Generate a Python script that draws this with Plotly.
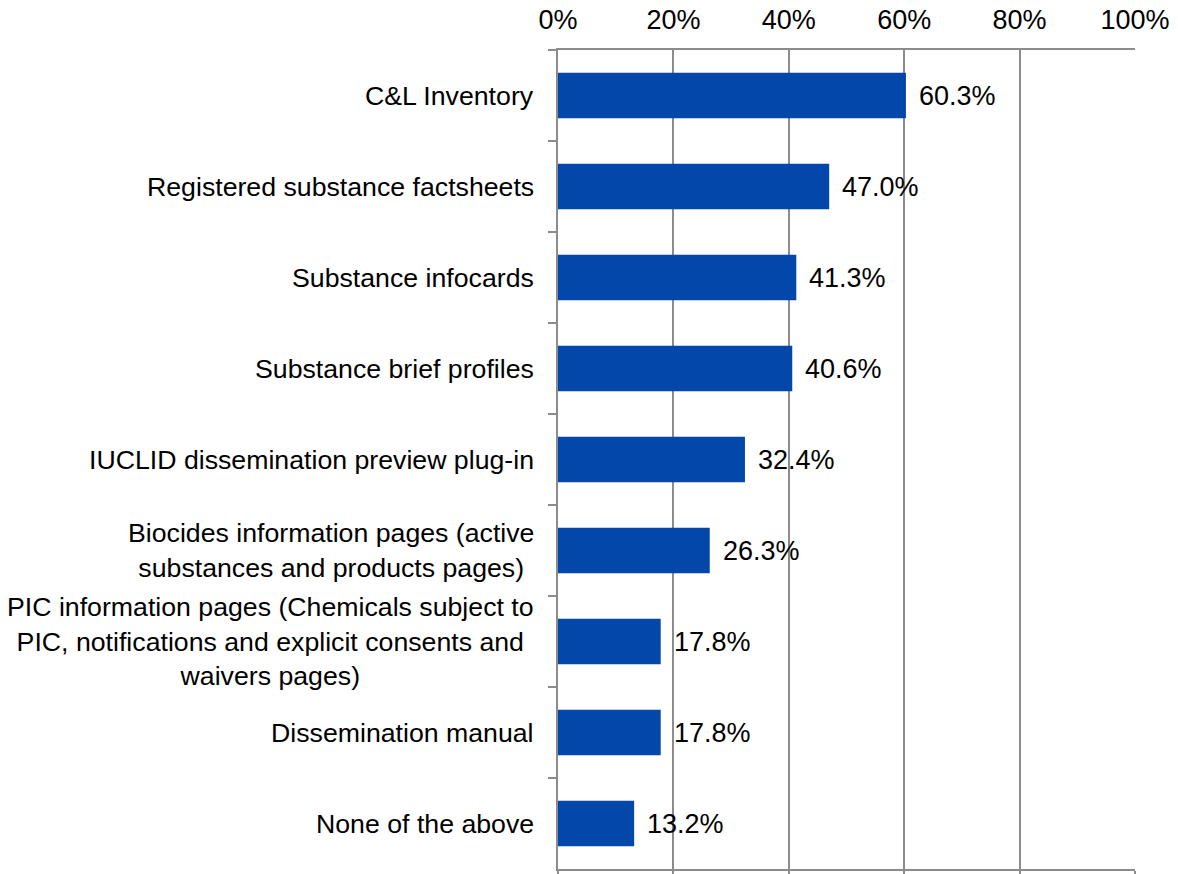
import plotly.graph_objects as go

categories = [
    "C&L Inventory",
    "Registered substance factsheets",
    "Substance infocards",
    "Substance brief profiles",
    "IUCLID dissemination preview plug-in",
    "Biocides information pages (active<br>substances and products pages)",
    "PIC information pages (Chemicals subject to<br>PIC, notifications and explicit consents and<br>waivers pages)",
    "Dissemination manual",
    "None of the above",
]
values = [60.3, 47.0, 41.3, 40.6, 32.4, 26.3, 17.8, 17.8, 13.2]
value_labels = ["60.3%", "47.0%", "41.3%", "40.6%", "32.4%", "26.3%", "17.8%", "17.8%", "13.2%"]
x_ticks = [0, 20, 40, 60, 80, 100]
x_tick_labels = ["0%", "20%", "40%", "60%", "80%", "100%"]

FONT = "Arial, Liberation Sans, sans-serif"
GRID = "#8c8c8c"
FS = 27
FS_CAT = 26.7

fig = go.Figure()
fig.add_trace(go.Bar(
    y=categories, x=values, orientation="h",
    marker=dict(color="#0347AB", line=dict(width=0)),
    hoverinfo="skip", showlegend=False,
))
# invisible trace to bind xaxis2 (bottom tick marks)
fig.add_trace(go.Scatter(x=[0], y=[categories[0]], xaxis="x2", mode="markers",
                         marker=dict(opacity=0), showlegend=False, hoverinfo="skip"))

annotations = []
for cat, v, lab in zip(categories, values, value_labels):
    annotations.append(dict(x=v, y=cat, xref="x", yref="y", text=lab, showarrow=False,
                            xanchor="left", yanchor="middle", xshift=11,
                            font=dict(family=FONT, size=FS, color="#000000")))
for cat in categories:
    annotations.append(dict(x=0, y=cat, xref="paper", yref="y", text=cat, showarrow=False,
                            xanchor="right", yanchor="middle", xshift=-22, align="center",
                            font=dict(family=FONT, size=FS_CAT, color="#000000")))

fig.update_layout(
    width=1178, height=874,
    margin=dict(l=558, r=43, t=50, b=5),
    paper_bgcolor="white", plot_bgcolor="white",
    bargap=0.5,
    font=dict(family=FONT, size=FS, color="#000000"),
    annotations=annotations,
    xaxis=dict(
        side="top", range=[0, 100], tickvals=x_ticks, ticktext=x_tick_labels,
        showgrid=True, gridcolor=GRID, gridwidth=1.5,
        showline=True, linecolor=GRID, linewidth=1.5,
        ticks="", ticklabelstandoff=8, zeroline=False, automargin=False,
        tickfont=dict(family=FONT, size=FS, color="#000000"),
        fixedrange=True,
    ),
    xaxis2=dict(
        overlaying="x", side="bottom", range=[0, 100], tickvals=x_ticks,
        showticklabels=False, showgrid=False, zeroline=False, automargin=False,
        showline=True, linecolor=GRID, linewidth=1.5,
        ticks="outside", ticklen=10, tickcolor=GRID, tickwidth=1.5, anchor="y",
    ),
    yaxis=dict(
        autorange="reversed", showticklabels=False, automargin=False,
        showline=True, linecolor=GRID, linewidth=1.5,
        ticks="outside", tickson="boundaries", ticklen=8, tickcolor=GRID, tickwidth=1.5,
        showgrid=False, zeroline=False,
    ),
)

fig.write_html("out.html", config={"displayModeBar": False},
               post_script="document.body.style.margin='0';")
